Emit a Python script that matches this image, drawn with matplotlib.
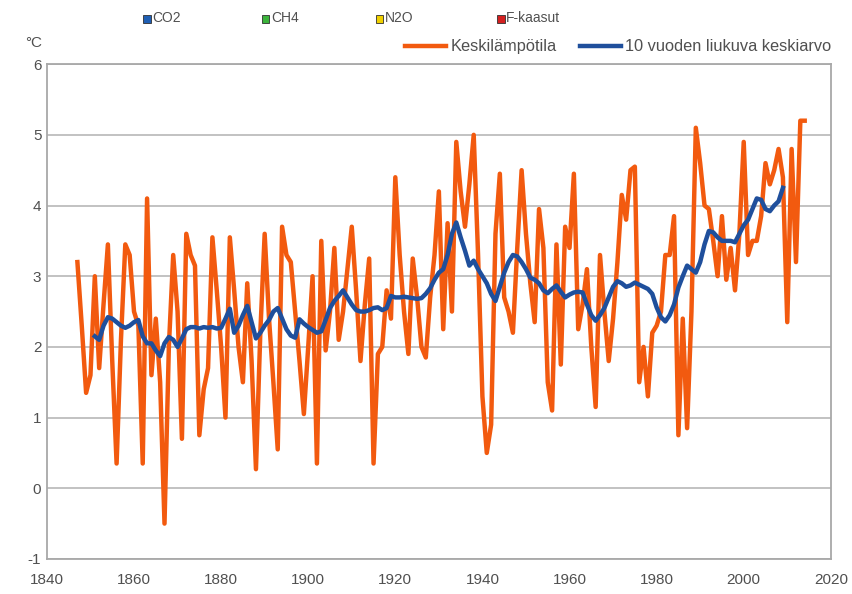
import numpy as np
import matplotlib.pyplot as plt
from matplotlib.patches import Rectangle

plt.rcParams['font.family'] = ['Liberation Sans', 'DejaVu Sans']
plt.rcParams['axes.unicode_minus'] = False

# vuosittainen keskilämpötila
years = np.arange(1847, 2015)
temps = [3.2, 2.3, 1.35,
         1.6, 3.0, 1.7, 2.6, 3.45, 1.8, 0.35, 2.1, 3.45, 3.3,
         2.5, 2.3, 0.35, 4.1, 1.6, 2.4, 1.5, -0.5, 2.0, 3.3,
         2.5, 0.7, 3.6, 3.3, 3.15, 0.75, 1.4, 1.7, 3.55, 2.8,
         2.0, 1.0, 3.55, 2.8, 2.0, 1.5, 2.9, 1.8, 0.27, 2.2,
         3.6, 2.4, 1.5, 0.55, 3.7, 3.3, 3.2, 2.5, 1.8, 1.05,
         2.0, 3.0, 0.35, 3.5, 1.95, 2.5, 3.4, 2.1, 2.5, 3.1,
         3.7, 2.8, 1.8, 2.6, 3.25, 0.35, 1.9, 2.0, 2.8, 2.4,
         4.4, 3.3, 2.5, 1.9, 3.25, 2.7, 2.0, 1.85, 2.7, 3.3,
         4.2, 2.25, 3.75, 2.5, 4.9, 4.2, 3.7, 4.3, 5.0, 3.3,
         1.3, 0.5, 0.9, 3.6, 4.45, 2.7, 2.5, 2.2, 3.4, 4.5,
         3.6, 2.9, 2.35, 3.95, 3.4, 1.5, 1.1, 3.45, 1.75, 3.7,
         3.4, 4.45, 2.25, 2.6, 3.1, 2.0, 1.15, 3.3, 2.5, 1.8,
         2.4, 3.2, 4.15, 3.8, 4.5, 4.55, 1.5, 2.0, 1.3, 2.2,
         2.3, 2.5, 3.3, 3.3, 3.85, 0.75, 2.4, 0.85, 2.5, 5.1,
         4.6, 4.0, 3.95, 3.5, 3.0, 3.85, 2.95, 3.4, 2.8, 3.6,
         4.9, 3.3, 3.5, 3.5, 3.85, 4.6, 4.3, 4.5, 4.8, 4.4,
         2.35, 4.8, 3.2, 5.2, 5.2]

# 10 vuoden liukuva keskiarvo
ma_years = np.arange(1851, 2010)
ma_vals = [2.15, 2.1, 2.3, 2.42, 2.4, 2.35, 2.3, 2.27, 2.3,
           2.35, 2.38, 2.15, 2.05, 2.05, 1.95, 1.87, 2.05, 2.14, 2.1,
           2.0, 2.12, 2.25, 2.28, 2.28, 2.26, 2.28, 2.27, 2.28, 2.26,
           2.27, 2.4, 2.54, 2.2, 2.3, 2.45, 2.58, 2.35, 2.12, 2.2,
           2.3, 2.38, 2.5, 2.55, 2.4, 2.25, 2.16, 2.13, 2.39, 2.33,
           2.28, 2.24, 2.2, 2.22, 2.38, 2.55, 2.65, 2.72, 2.8, 2.7,
           2.6, 2.52, 2.5, 2.5, 2.52, 2.55, 2.56, 2.52, 2.55, 2.72,
           2.7, 2.7, 2.71, 2.7, 2.69, 2.68, 2.69, 2.75, 2.83, 2.95,
           3.05, 3.1, 3.3, 3.6, 3.76, 3.55, 3.36, 3.15, 3.22, 3.1,
           3.0, 2.9, 2.75, 2.65, 2.85, 3.05, 3.2, 3.3, 3.28, 3.2,
           3.1, 2.98, 2.95, 2.9, 2.8, 2.76, 2.82, 2.87, 2.78, 2.7,
           2.74, 2.77, 2.78, 2.77, 2.6, 2.45, 2.37, 2.45, 2.55, 2.7,
           2.85, 2.93, 2.9, 2.85, 2.87, 2.91, 2.88, 2.85, 2.82, 2.75,
           2.56, 2.42, 2.36, 2.45, 2.6, 2.84, 3.0, 3.15, 3.1, 3.05,
           3.2, 3.45, 3.64, 3.62, 3.55, 3.5, 3.5, 3.5, 3.48, 3.6,
           3.72, 3.8, 3.95, 4.1, 4.08, 3.95, 3.92, 4.0, 4.06, 4.25]

gas_names = ['CO2', 'CH4', 'N2O', 'F-kaasut']
gas_colors = ['#1f5fb4', '#3cb43c', '#f0d000', '#d42020']

orange = '#f25a0f'
blue = '#1f4f9c'
txt = '#505050'

fig = plt.figure(figsize=(8.53, 5.94), dpi=100)
ax = fig.add_axes([0.055, 0.059, 0.919, 0.833])

ax.plot(years, temps, color=orange, lw=3.2, solid_joinstyle='round',
        label='Keskilämpötila', zorder=3)
ax.plot(ma_years, ma_vals, color=blue, lw=3.2, solid_joinstyle='round',
        label='10 vuoden liukuva keskiarvo', zorder=4)

ax.set_xlim(1840, 2020)
ax.set_ylim(-1, 6)
ax.set_xticks(np.arange(1840, 2021, 20))
ax.set_yticks(np.arange(-1, 7, 1))
ax.grid(axis='y', color='#bdbdbd', lw=1.3)
ax.set_axisbelow(True)
for s in ax.spines.values():
    s.set_color('#a8a8a8')
    s.set_linewidth(1.3)
ax.tick_params(length=0, labelsize=11, labelcolor=txt)
ax.tick_params(axis='x', pad=10)
ax.tick_params(axis='y', pad=4)

fig.text(0.029, 0.928, '°C', fontsize=11, color=txt, ha='left', va='center')

# ylärivin selitteet
gas_x = [0.168, 0.307, 0.441, 0.583]
for name, col, x in zip(gas_names, gas_colors, gas_x):
    fig.add_artist(Rectangle((x, 0.962), 0.0085, 0.013, transform=fig.transFigure,
                             facecolor=col, edgecolor='#303030', lw=0.6))
    fig.text(x + 0.0105, 0.969, name, fontsize=10, color=txt, va='center')

fig.legend(loc='center right', bbox_to_anchor=(0.975, 0.921), ncol=2,
           frameon=False, fontsize=11.8, labelcolor=txt, handlelength=2.5,
           handletextpad=0.3, columnspacing=1.4, borderaxespad=0, borderpad=0)

fig.savefig('out.png', dpi=100)
